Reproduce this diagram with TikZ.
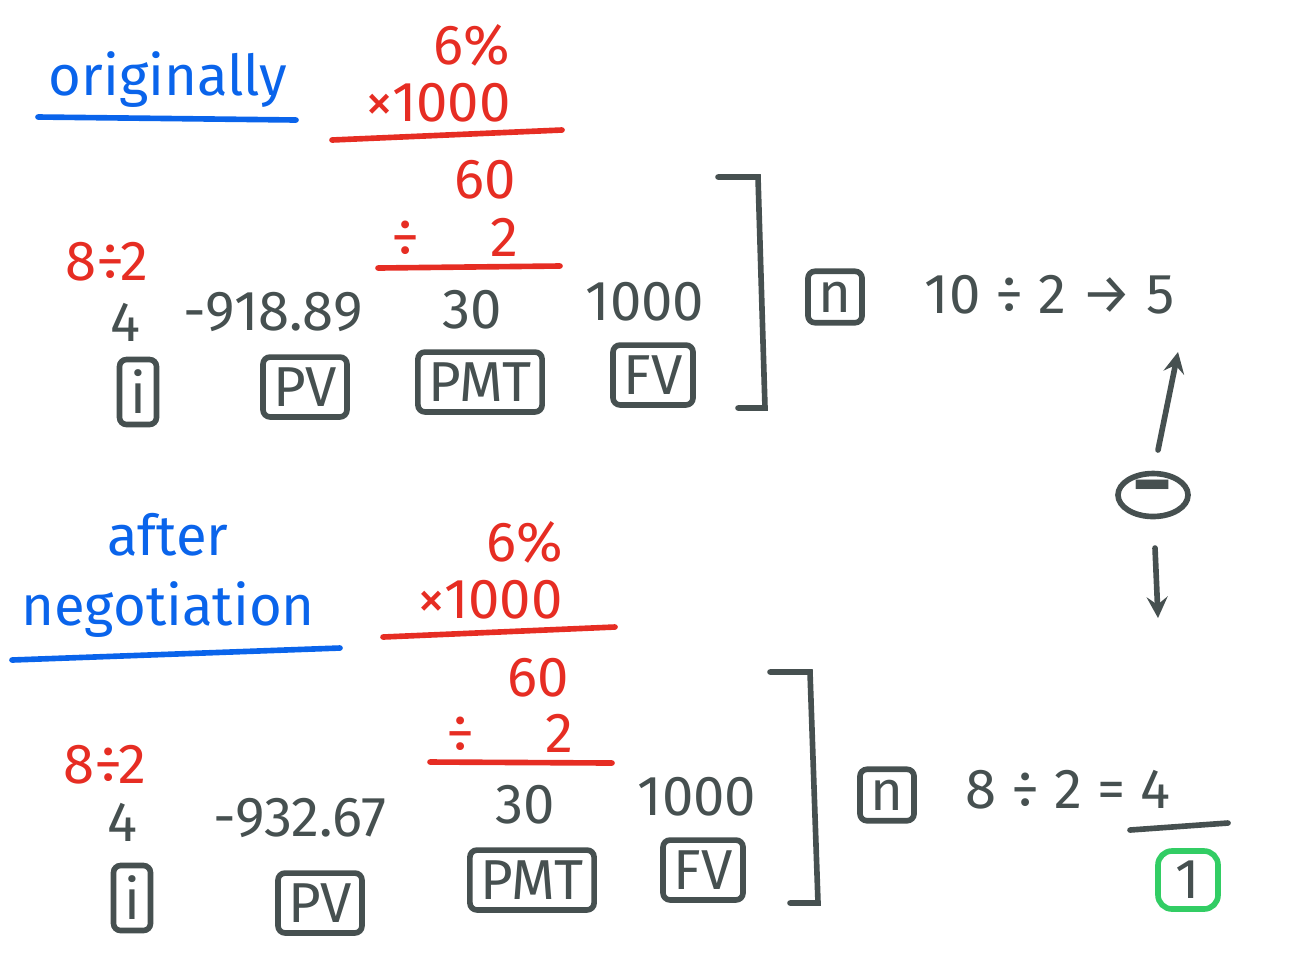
\documentclass[tikz,border=0pt]{standalone}
\usepackage{fontspec}
\setmainfont{Fira Sans}
\usetikzlibrary{arrows,shapes.geometric}
\definecolor{inkblue}{RGB}{10,100,235}
\definecolor{inkred}{RGB}{230,45,35}
\definecolor{inkgray}{RGB}{70,80,80}
\definecolor{inkgreen}{RGB}{50,205,100}

\begin{document}
\begin{tikzpicture}[x = 0.01cm, y = -0.01cm, line width = 1.6pt, line cap = round, every node/.style = {font = \fontsize{16}{19}\selectfont, inner sep = 2pt}]
	\tikzset{blu/.style = {text = inkblue}, rd/.style = {text = inkred}, gr/.style = {text = inkgray}, key/.style = {draw = inkgray, text = inkgray, rounded corners = 2pt, inner sep = 3pt}}
	\useasboundingbox (0,0) rectangle (1298,969);

	% originally
	\node[blu] (orig) at (168, 80) {originally};
	\draw[inkblue] (38,117) -- (296,120);
	\node[rd] (pctA) at (472, 45) {6\%};
	\node[rd] (mulA) at (438,103) {×1000};
	\draw[inkred] (332,140) -- (562,130);
	\node[rd] (sixA) at (485,180) {60};
	\node[rd] (divA) at (455,237) {÷ \quad 2};
	\draw[inkred] (378,268) -- (560,266);
	\node[rd] (nA) at (107,262) {8÷2};
	\node[gr] (iA)   at (125,322) {4};
	\node[gr] (pvA)  at (273,312) {-918.89};
	\node[gr] (pmtA) at (472,310) {30};
	\node[gr] (fvA)  at (645,302) {1000};
	\node[key] (ki1) at (138,392) {i};
	\node[key] (kp1) at (305,387) {PV};
	\node[key] (km1) at (480,382) {PMT};
	\node[key] (kf1) at (653,375) {FV};
	\draw[inkgray] (718,177) -- (758,177) -- (765,408) -- (738,408);
	\node[key] (kn1) at (835,297) {n};
	\node[gr] (yrA) at (1050,295) {10 ÷ 2 → 5};

	% difference
	\node[draw = inkgray, ellipse, minimum width = 0.7cm, minimum height = 0.4cm, text = inkgray, inner sep = 0pt, font = \fontsize{22}{22}\selectfont\bfseries] (minus) at (1153,495) {\raisebox{-2pt}{−}};
	\coordinate (upend) at (1178,352);
	\coordinate (dnend) at (1158,618);
	\draw[inkgray, -stealth] (1158,450) -- (upend);
	\draw[inkgray, -stealth] (1155,548) -- (dnend);

	% after negotiation
	\node[blu] (aft) at (168,535) {after};
	\node[blu] (neg) at (168,610) {negotiation};
	\draw[inkblue] (12,660) -- (340,648);
	\node[rd] (pctB) at (525,542) {6\%};
	\node[rd] (mulB) at (490,600) {×1000};
	\draw[inkred] (383,637) -- (615,627);
	\node[rd] (sixB) at (538,678) {60};
	\node[rd] (divB) at (510,733) {÷ \quad 2};
	\draw[inkred] (430,762) -- (612,763);
	\node[rd] (nB) at (105,765) {8÷2};
	\node[gr] (iB)   at (122,822) {4};
	\node[gr] (pvB)  at (300,818) {-932.67};
	\node[gr] (pmtB) at (525,805) {30};
	\node[gr] (fvB)  at (697,797) {1000};
	\node[key] (ki2) at (132,898) {i};
	\node[key] (kp2) at (320,903) {PV};
	\node[key] (km2) at (532,880) {PMT};
	\node[key] (kf2) at (703,870) {FV};
	\draw[inkgray] (770,672) -- (810,672) -- (818,903) -- (790,903);
	\node[key] (kn2) at (887,795) {n};
	\node[gr] (yrB) at (1068,790) {8 ÷ 2 = 4};
	\draw[inkgray] (1130,830) -- (1228,823);
	\node[draw = inkgreen, text = inkgray, rounded corners = 4pt, minimum width = 0.6cm, minimum height = 0.58cm] (res) at (1188,880) {1};
\end{tikzpicture}
\end{document}
